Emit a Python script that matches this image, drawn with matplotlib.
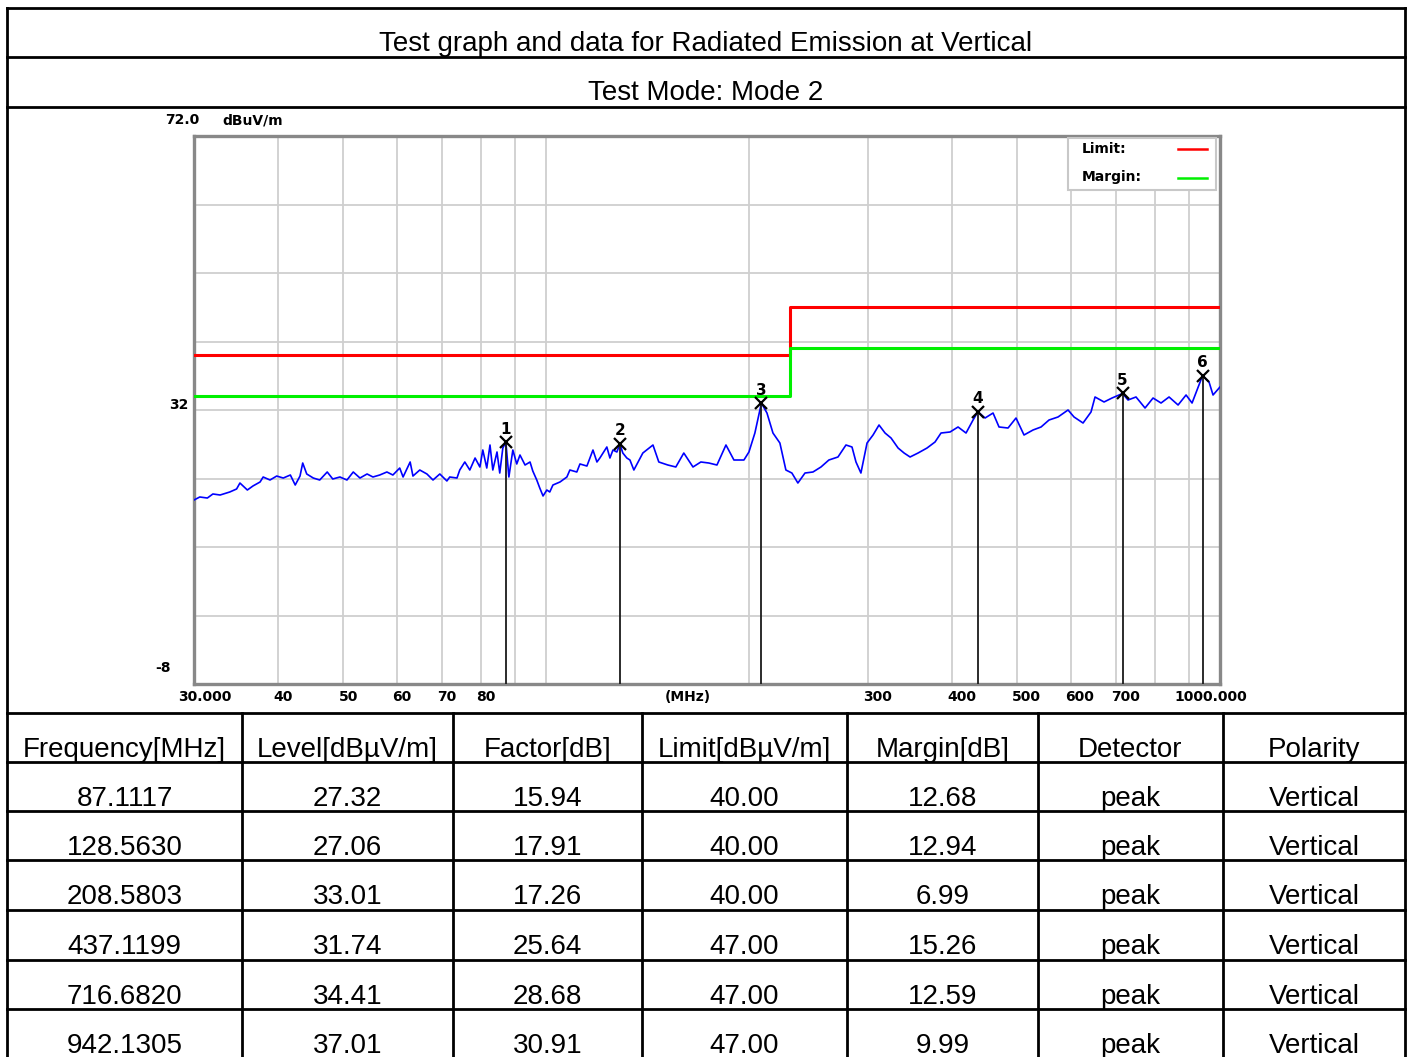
import matplotlib
matplotlib.use("Agg")
import matplotlib.pyplot as plt
import matplotlib.transforms as mtransforms
from matplotlib.lines import Line2D
from matplotlib.patches import Rectangle
from matplotlib.ticker import NullLocator

# ---- data ----
trace_freq = [
    30.0, 30.6, 31.4, 32.0, 32.8, 33.9, 34.7, 35.1, 36.0, 36.7, 37.6, 38.0, 38.9, 39.8,
    40.7, 41.7, 42.4, 43.1, 43.5, 44.1, 45.1, 46.1, 47.3, 48.2, 49.4, 50.6, 51.7, 52.9,
    54.2, 55.3, 56.6, 58.0, 59.2, 60.6, 61.3, 62.8, 63.4, 64.9, 66.5, 67.9, 69.5, 71.2,
    71.9, 73.7, 74.4, 75.7, 77.0, 78.4, 79.7, 80.5, 81.6, 82.5, 83.3, 84.5, 85.3, 86.2,
    87.1, 88.0, 89.2, 90.4, 91.4, 93.0, 94.6, 95.5, 96.8, 97.8, 98.9, 100.2, 101.2,
    102.3, 104.8, 107.3, 108.4, 111.0, 112.2, 114.9, 117.3, 118.9, 120.1, 123.0, 124.3,
    125.6, 127.3, 128.6, 129.9, 131.7, 133.1, 134.9, 139.1, 144.0, 146.9, 151.5, 155.7,
    160.0, 165.1, 169.6, 174.3, 179.2, 184.8, 189.9, 196.5, 199.9, 204.0, 208.6, 212.6,
    217.0, 222.2, 226.8, 231.5, 236.3, 242.1, 248.8, 255.7, 262.7, 271.0, 278.5, 284.3,
    288.2, 293.1, 299.3, 305.5, 311.8, 318.3, 324.9, 332.8, 339.7, 346.7, 356.3, 367.4,
    377.6, 385.4, 397.5, 408.5, 419.8, 430.0, 437.1, 448.0, 460.4, 469.9, 484.6, 498.0,
    511.8, 527.8, 542.5, 557.5, 574.9, 594.9, 607.2, 626.2, 643.5, 652.4, 672.8, 691.4,
    716.7, 730.3, 750.5, 774.0, 795.5, 817.5, 840.2, 866.5, 890.5, 908.9, 942.1, 963.2,
    976.5, 1000.0,
]
trace_level = [
    18.86, 19.30, 19.15, 19.74, 19.59, 20.03, 20.47, 21.34, 20.32, 20.91, 21.49, 22.22, 21.78, 22.36,
    22.07, 22.51, 21.05, 22.36, 24.26, 22.66, 22.07, 21.78, 22.95, 21.93, 22.22, 21.78, 22.95, 22.07,
    22.66, 22.22, 22.51, 22.95, 22.51, 23.53, 22.22, 24.41, 22.36, 23.24, 22.66, 21.78, 22.66, 21.64,
    22.22, 22.07, 23.24, 24.41, 23.24, 24.99, 23.68, 26.16, 23.53, 26.89, 23.24, 25.87, 22.80, 26.45,
    27.32, 22.22, 26.16, 24.12, 25.43, 23.97, 24.41, 23.09, 21.78, 20.61, 19.45, 20.32, 20.03,
    21.05, 21.49, 22.22, 23.24, 22.95, 24.12, 23.82, 26.16, 24.41, 24.99, 26.60, 24.99,
    26.16, 25.87, 27.06, 25.72, 24.99, 24.70, 23.24, 25.72, 26.89, 24.41, 23.97, 23.68,
    25.72, 23.68, 24.41, 24.26, 23.97, 26.89, 24.70, 24.70, 25.87, 28.64, 33.01, 31.56,
    28.64, 27.18, 23.24, 22.80, 21.34, 22.80, 22.95, 23.68, 24.70, 25.14, 26.89, 26.60,
    24.41, 22.80, 27.18, 28.35, 29.81, 28.64, 27.91, 26.45, 25.72, 25.14, 25.72, 26.45,
    27.33, 28.64, 28.79, 29.52, 28.64, 30.54, 31.74, 30.83, 31.56, 29.52, 29.37, 30.83,
    28.35, 29.08, 29.52, 30.54, 30.98, 32.00, 30.98, 30.10, 31.71, 33.90, 33.17, 33.75,
    34.41, 33.46, 33.90, 32.29, 33.75, 33.02, 33.90, 32.73, 34.19, 33.02, 37.01, 36.09,
    34.19, 35.36,
]

limit_freq = [30, 230, 1000]
limit_level = [40, 47, 47]
margin_level = [34, 41, 41]

peak_freq = [87.1117, 128.5630, 208.5803, 437.1199, 716.6820, 942.1305]
peak_level = [27.32, 27.06, 33.01, 31.74, 34.41, 37.01]
peak_factor = [15.94, 17.91, 17.26, 25.64, 28.68, 30.91]
peak_limit = [40.00, 40.00, 40.00, 47.00, 47.00, 47.00]
peak_margin = [12.68, 12.94, 6.99, 15.26, 12.59, 9.99]
peak_detector = ["peak"] * 6
peak_polarity = ["Vertical"] * 6

table_header = ["Frequency[MHz]", "Level[dBµV/m]", "Factor[dB]", "Limit[dBµV/m]",
                "Margin[dB]", "Detector", "Polarity"]

x_grid_freq = [40, 50, 60, 70, 80, 90, 100, 200, 300, 400, 500, 600, 700, 800, 900]
y_grid = [-8, 2, 12, 22, 32, 42, 52, 62, 72]
x_tick_freq = [30, 40, 50, 60, 70, 80, 300, 400, 500, 600, 700, 1000]
x_tick_text = ["30.000", "40", "50", "60", "70", "80", "300", "400", "500", "600", "700", "1000.000"]

# ---- figure in pixel units ----
W, H = 1410, 1057
fig = plt.figure(figsize=(W / 100, H / 100), dpi=100)
px = mtransforms.Affine2D().scale(1 / W, -1 / H).translate(0, 1) + fig.transFigure

table_font = dict(family="Liberation Sans", fontsize=20, color="black")
chart_font = dict(family="DejaVu Sans", fontsize=10, fontweight="bold", color="black")


def line(xs, ys, lw=2.0, color="black"):
    fig.add_artist(Line2D(xs, ys, transform=px, color=color, lw=lw, solid_capstyle="projecting"))


# outer frame and title rows
line([7, 7], [8, H])
line([1405, 1405], [8, H])
for y in [8, 57, 107, 713, 762, 811, 860, 910, 960, 1009]:
    line([7, 1405], [y, y])

col_edges = [7, 242, 453, 642, 847, 1038, 1223, 1405]
for x in col_edges[1:-1]:
    line([x, x], [713, H])

fig.text(706, 51, "Test graph and data for Radiated Emission at Vertical",
         transform=px, ha="center", va="baseline", **table_font)
fig.text(706, 100, "Test Mode: Mode 2", transform=px, ha="center", va="baseline", **table_font)

# ---- chart ----
ax = fig.add_axes([194 / W, 1 - 684 / H, 1026 / W, 548 / H])
ax.set_xscale("log")
ax.set_xlim(30, 1000)
ax.set_ylim(-8, 72)
ax.set_xticks(x_grid_freq)
ax.xaxis.set_minor_locator(NullLocator())
ax.set_yticks(y_grid)
ax.tick_params(which="both", length=0, labelbottom=False, labelleft=False)
ax.grid(True, color="#cfcfcf", lw=1.3)
for sp in ax.spines.values():
    sp.set_color("#888888")
    sp.set_linewidth(2.4)

ax.plot(limit_freq, limit_level, drawstyle="steps-post", color="#ff0000", lw=2.2, zorder=3)
ax.plot(limit_freq, margin_level, drawstyle="steps-post", color="#00f000", lw=2.2, zorder=3)
ax.plot(trace_freq, trace_level, color="#0000ff", lw=1.2, zorder=4)

for i, (f, lv) in enumerate(zip(peak_freq, peak_level)):
    ax.vlines(f, -8, lv, color="#1a1a1a", lw=1.3, zorder=5)
    ax.plot(f, lv, marker="x", ms=8, mew=1.6, color="black", zorder=6)
    ax.annotate(str(i + 1), (f, lv), xytext=(0, 4), textcoords="offset points",
                ha="center", va="bottom", family="DejaVu Sans", fontsize=11,
                fontweight="bold")

# axis texts
fig.text(182, 120, "72.0", transform=px, ha="center", va="center", **chart_font)
fig.text(222, 120, "dBuV/m", transform=px, ha="left", va="center", **chart_font)
fig.text(189, 405, "32", transform=px, ha="right", va="center", **chart_font)
fig.text(171, 668, "-8", transform=px, ha="right", va="center", **chart_font)

xlab_trans = mtransforms.blended_transform_factory(ax.transData, px)
for f, lab in zip(x_tick_freq, x_tick_text):
    if lab == "30.000":
        ha, dx = "left", -16
    elif lab == "1000.000":
        ha, dx = "right", 27
    else:
        ha, dx = "left", -5
    t = mtransforms.offset_copy(xlab_trans, fig=fig, x=dx, y=0, units="dots")
    ax.text(f, 697, lab, transform=t, ha=ha, va="center", clip_on=False, **chart_font)
fig.text(688, 697, "(MHz)", transform=px, ha="center", va="center", **chart_font)

# legend box
fig.add_artist(Rectangle((1068, 138), 148, 52, transform=px, facecolor="white",
                         edgecolor="#c8c8c8", lw=1.5, zorder=5))
fig.text(1082, 149, "Limit:", transform=px, ha="left", va="center", zorder=6, **chart_font)
fig.text(1082, 177, "Margin:", transform=px, ha="left", va="center", zorder=6, **chart_font)
fig.add_artist(Line2D([1178, 1207], [149, 149], transform=px, color="#ff0000", lw=1.8, zorder=6))
fig.add_artist(Line2D([1178, 1207], [178, 178], transform=px, color="#00f000", lw=1.8, zorder=6))

# ---- data table ----
col_centers = [(a + b) / 2 for a, b in zip(col_edges[:-1], col_edges[1:])]
for c, txt in zip(col_centers, table_header):
    fig.text(c, 757, txt, transform=px, ha="center", va="baseline", **table_font)

row_tops = [762, 811, 860, 910, 960, 1009]
for r, top in enumerate(row_tops):
    cells = [f"{peak_freq[r]:.4f}", f"{peak_level[r]:.2f}", f"{peak_factor[r]:.2f}",
             f"{peak_limit[r]:.2f}", f"{peak_margin[r]:.2f}", peak_detector[r], peak_polarity[r]]
    for c, txt in zip(col_centers, cells):
        fig.text(c, top + 44, txt, transform=px, ha="center", va="baseline", **table_font)

fig.savefig("out.png", dpi=100)
